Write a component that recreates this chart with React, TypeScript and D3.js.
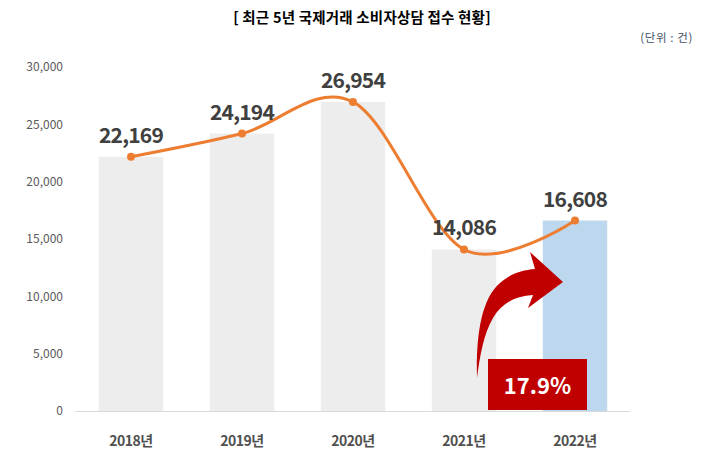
import React from "react";
import * as d3 from "d3";

const categories = ["2018년", "2019년", "2020년", "2021년", "2022년"];
const values = [22169, 24194, 26954, 14086, 16608];
const yTicks = [0, 5000, 10000, 15000, 20000, 25000, 30000];
const title = "[ 최근 5년 국제거래 소비자상담 접수 현황]";
const unitLabel = "(단위 : 건)";
const growthLabel = "17.9%";

const W = 721;
const H = 459;
const FONT = "'Noto Sans CJK KR', 'Noto Sans', sans-serif";

export default function App() {
  const x = d3.scaleBand<string>().domain(categories).range([75.5, 630.5]).paddingInner(0.42).paddingOuter(0.21);
  const y = d3.scaleLinear().domain([0, 30000]).range([411, 67]);
  const fmt = d3.format(",");
  const cx = (c: string) => (x(c) as number) + x.bandwidth() / 2;
  const pts: [number, number][] = values.map((v, i) => [cx(categories[i]), y(v)]);
  const line = d3.line().curve(d3.curveCatmullRom.alpha(0))(pts) as string;

  // annotation anchor between 2021 and 2022
  const ax = cx(categories[3]);
  const ay = y(0);
  const arrow = `M ${ax + 13} ${ay - 33}
    C ${ax + 12} ${ay - 71}, ${ax + 16} ${ay - 111}, ${ax + 36} ${ay - 128}
    C ${ax + 46} ${ay - 137}, ${ax + 58} ${ay - 141}, ${ax + 71} ${ay - 142}
    L ${ax + 66} ${ay - 159}
    L ${ax + 99} ${ay - 129}
    L ${ax + 64} ${ay - 103}
    L ${ax + 69} ${ay - 116}
    C ${ax + 51} ${ay - 115}, ${ax + 38} ${ay - 108}, ${ax + 29} ${ay - 93}
    C ${ax + 20} ${ay - 78}, ${ax + 16} ${ay - 56}, ${ax + 13} ${ay - 33} Z`;

  return (
    <svg width={W} height={H} style={{ position: "absolute", left: 0, top: 0, background: "#fff" }} fontFamily={FONT}>
      <text x={362} y={23} textAnchor="middle" fontSize={14.5} fontWeight={700} fill="#000" letterSpacing={0.2}>{title}</text>
      <text x={693} y={42} textAnchor="end" fontSize={11.5} fill="#44546A" letterSpacing={0.6}>{unitLabel}</text>

      {yTicks.map((t) => (
        <text key={t} x={63} y={y(t)} dy="0.35em" textAnchor="end" fontSize={12} fill="#595959">{fmt(t)}</text>
      ))}

      {values.map((v, i) => (
        <rect key={i} x={x(categories[i])} y={y(v)} width={x.bandwidth()} height={y(0) - y(v)}
          fill={i === values.length - 1 ? "#BDD7EE" : "#EDEDED"} />
      ))}

      <line x1={75.5} x2={630.5} y1={y(0) + 0.5} y2={y(0) + 0.5} stroke="#D9D9D9" strokeWidth={1} />

      {categories.map((c) => (
        <text key={c} x={cx(c)} y={446} textAnchor="middle" fontSize={14} fontWeight={700} fill="#505050" letterSpacing={-0.5}>{c}</text>
      ))}

      <path d={line} fill="none" stroke="#ED7D31" strokeWidth={3} />
      {pts.map((p, i) => (
        <circle key={i} cx={p[0]} cy={p[1]} r={4} fill="#ED7D31" />
      ))}
      {values.map((v, i) => (
        <text key={i} x={pts[i][0]} y={pts[i][1] - 14} textAnchor="middle" fontSize={21} fontWeight={700} fill="#404040" letterSpacing={-0.8}>{fmt(v)}</text>
      ))}

      <path d={arrow} fill="#C00000" />
      <rect x={ax + 24} y={ay - 52} width={99} height={51} fill="#C00000" />
      <text x={ax + 73.5} y={ay - 17} textAnchor="middle" fontSize={22} fontWeight={700} fill="#fff">{growthLabel}</text>
    </svg>
  );
}
